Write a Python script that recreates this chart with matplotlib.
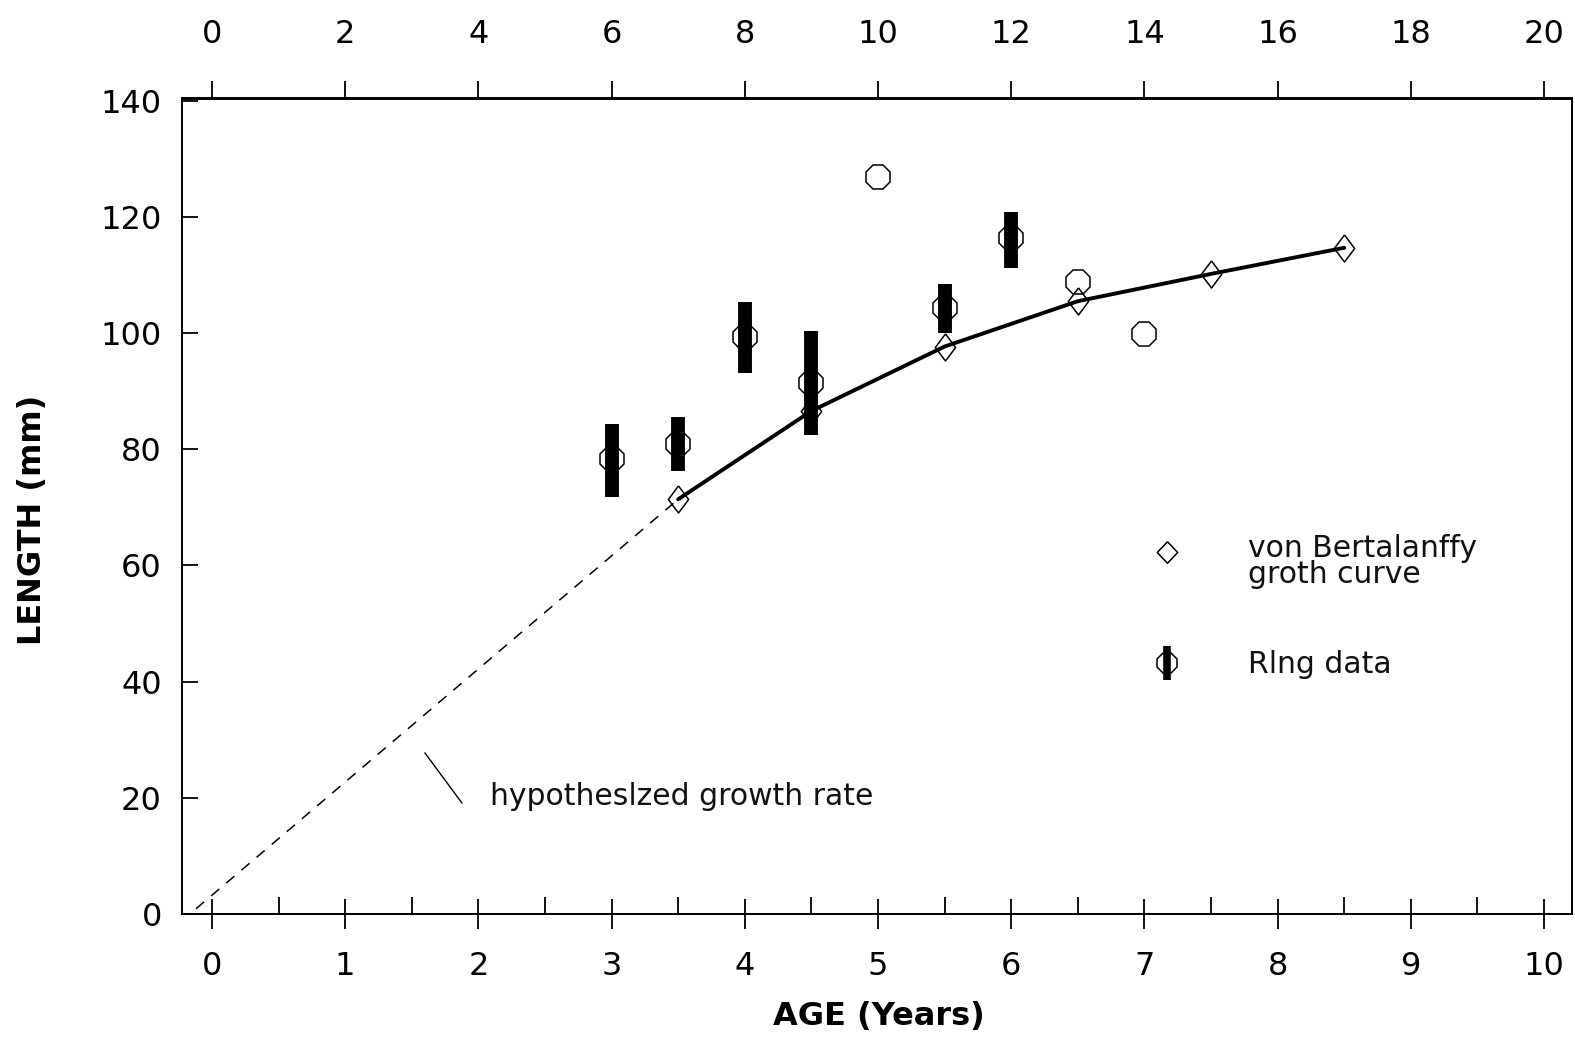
import matplotlib
matplotlib.use("Agg")
import matplotlib.pyplot as plt
import numpy as np

plt.rcParams["font.family"] = ["DejaVu Sans"]

# Ring data: age (years), mean length (mm) and range bars
ring_age = [3.0, 3.5, 4.0, 4.5, 5.0, 5.5, 6.0, 6.5, 7.0]
ring_len = [78.3, 81.0, 99.4, 91.5, 126.9, 104.4, 116.3, 108.8, 99.8]
ring_low = [71.8, 76.2, 93.2, 82.5, np.nan, 100.0, 111.3, np.nan, np.nan]
ring_high = [84.4, 85.5, 105.3, 100.3, np.nan, 108.4, 120.9, np.nan, np.nan]

# von Bertalanffy growth curve points
vb_age = [3.5, 4.5, 5.5, 6.5, 7.5, 8.5]
vb_len = [71.4, 86.6, 97.7, 105.5, 110.2, 114.7]

# hypothesized early growth (dashed)
hyp_age = [-0.12, 3.5]
hyp_len = [0.9, 71.4]

bottom_ticks = list(range(0, 11))
top_ticks = list(range(0, 21, 2))
y_ticks = list(range(0, 141, 20))

W, H = 1575, 1041
fig = plt.figure(figsize=(W / 100, H / 100), dpi=100)
ax = fig.add_axes([182 / W, 1 - 914 / H, 1390 / W, 815.5 / H])
ax.set_xlim(-0.225, 10.21)
ax.set_ylim(0, 140.4)

for s in ax.spines.values():
    s.set_linewidth(1.4)

# curve and hypothesized line
ax.plot(vb_age, vb_len, color="black", lw=2.8, zorder=3, solid_capstyle="round")
ax.plot(hyp_age, hyp_len, color="black", lw=1.1, dashes=(7, 6), zorder=2)

diamond = [(0, 1), (0.75, 0), (0, -1), (-0.75, 0), (0, 1)]
ax.plot(vb_age, vb_len, linestyle="none", marker=diamond, markersize=19.5,
        markerfacecolor="none", markeredgecolor="black", markeredgewidth=1.1, zorder=4)

# ring data: octagon markers with thick range bars
ax.plot(ring_age, ring_len, linestyle="none", marker="8", markersize=19,
        markerfacecolor="none", markeredgecolor="black", markeredgewidth=1.1, zorder=4)
ax.vlines(ring_age, ring_low, ring_high, colors="black", linewidth=10,
          capstyle="butt", zorder=5)

# ticks
ax.set_yticks(y_ticks)
ax.set_xticks(bottom_ticks)
ax.set_xticks(np.arange(0.5, 10, 1.0), minor=True)
ax.tick_params(axis="y", which="major", direction="in", length=11.5, width=1.3,
               labelsize=23, pad=14.5, right=False)
ax.tick_params(axis="x", which="major", direction="inout", length=21.6, width=1.3,
               labelsize=23, pad=16, top=False)
ax.tick_params(axis="x", which="minor", direction="in", length=12, width=1.3, top=False)

sec = ax.secondary_xaxis("top", functions=(lambda x: 2 * x, lambda x: x / 2))
sec.set_xticks(top_ticks)
sec.tick_params(axis="x", direction="out", length=12, width=1.3, labelsize=23, pad=23)
sec.spines["top"].set_linewidth(1.4)

# axis titles
fig.text(33 / W, 1 - 520 / H, "LENGTH (mm)", rotation=90, ha="center", va="center",
         fontsize=23, fontweight="bold")
fig.text(879 / W, 1 - 1016 / H, "AGE (Years)", ha="center", va="center",
         fontsize=23, fontweight="bold")

# key
key_diamond = [(0, 1), (0.95, 0), (0, -1), (-0.95, 0), (0, 1)]
ax.plot([0.7086], [0.4439], transform=ax.transAxes, marker=key_diamond, markersize=15.5,
        markerfacecolor="none", markeredgecolor="black", markeredgewidth=1.1,
        linestyle="none", clip_on=False)
ax.plot([0.7086], [0.3078], transform=ax.transAxes, marker="8", markersize=15.5,
        markerfacecolor="none", markeredgecolor="black", markeredgewidth=1.1,
        linestyle="none", clip_on=False)
ax.plot([0.7086, 0.7086], [0.2869, 0.3286], transform=ax.transAxes, color="black",
        lw=5.5, solid_capstyle="butt")
ax.text(0.7669, 0.4378, "von Bertalanffy", transform=ax.transAxes, fontsize=21.5,
        va="baseline", ha="left", color="#111111")
ax.text(0.7669, 0.4059, "groth curve", transform=ax.transAxes, fontsize=21.5,
        va="baseline", ha="left", color="#111111")
ax.text(0.7669, 0.2955, "Rlng data", transform=ax.transAxes, fontsize=21.5,
        va="baseline", ha="left", color="#111111")

# annotation for the dashed line
ax.plot([0.1748, 0.2014], [0.1974, 0.1361], transform=ax.transAxes, color="black", lw=1.0)
ax.text(0.2216, 0.1337, "hypotheslzed growth rate", transform=ax.transAxes,
        fontsize=21.5, va="baseline", ha="left", color="#111111")

fig.savefig("out.png", dpi=100, facecolor="white")
